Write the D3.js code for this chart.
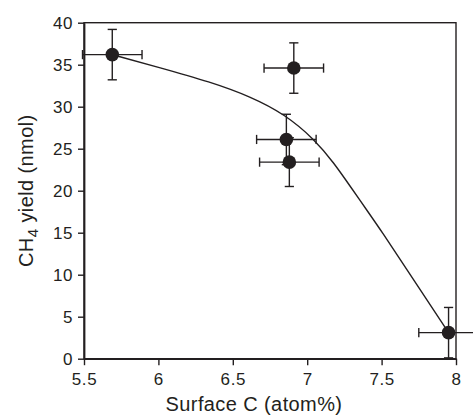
<!DOCTYPE html>
<html><head><meta charset="utf-8">
<script src="https://cdn.jsdelivr.net/npm/d3@7"></script>
<style>body{margin:0;background:#fff}svg{display:block}text{font-family:"Liberation Sans",Arial,sans-serif;fill:#231f20}</style>
</head><body><svg id="c" width="473" height="416"></svg>
<script>
const xVals = [5.69, 6.91, 6.86, 6.88, 7.95];
const yVals = [36.2, 34.6, 26.1, 23.4, 3.1];
const xErr = [0.2, 0.2, 0.2, 0.2, 0.2];
const yErr = [3.0, 3.0, 3.0, 2.9, 3.0];
const curveX = [5.69, 6.0, 6.35, 6.62, 6.85, 7.05, 7.18, 7.29, 7.40, 7.51, 7.61, 7.95];
const curveY = [36.2, 34.7, 32.95, 31.2, 29.1, 26.1, 23.3, 20.5, 17.7, 14.9, 12.2, 3.1];
const xTicks = [5.5, 6, 6.5, 7, 7.5, 8];
const yTicks = [0, 5, 10, 15, 20, 25, 30, 35, 40];

const ink = "#231f20";
const svg = d3.select("#c");
const L = 84, R = 456, T = 22.7, B = 358.7;
const x = d3.scaleLinear().domain([5.5, 8]).range([L, R]);
const y = d3.scaleLinear().domain([0, 40]).range([B, T]);

// frame
svg.append("rect").attr("x", L).attr("y", T).attr("width", R - L).attr("height", B - T)
  .attr("fill", "none").attr("stroke", ink).attr("stroke-width", 1.4);

const xa = svg.append("g").attr("transform", `translate(0,${B})`)
  .call(d3.axisBottom(x).tickValues(xTicks).tickFormat(d3.format("")).tickSize(6.5).tickSizeOuter(0));
const ya = svg.append("g").attr("transform", `translate(${L},0)`)
  .call(d3.axisLeft(y).tickValues(yTicks).tickSize(6).tickSizeOuter(0));
[xa, ya].forEach(g => {
  g.select(".domain").attr("stroke", ink).attr("stroke-width", 1.8);
  g.selectAll(".tick line").attr("stroke", ink).attr("stroke-width", 1.4);
  g.selectAll(".tick text").attr("fill", ink).style("font-size", "17px").style("letter-spacing", "0.6px");
});
xa.selectAll(".tick text").attr("dy", "0.71em").attr("y", 14);
ya.selectAll(".tick text").attr("x", -11);

// fitted curve
const line = d3.line().x(d => x(d[0])).y(d => y(d[1])).curve(d3.curveBasis);
svg.append("path").datum(d3.zip(curveX, curveY)).attr("d", line)
  .attr("fill", "none").attr("stroke", ink).attr("stroke-width", 1.4);

// error bars
const cap = 4.6;
const pts = d3.range(xVals.length).map(i => ({x: xVals[i], y: yVals[i], ex: xErr[i], ey: yErr[i]}));
const eb = svg.append("g").attr("stroke", ink).attr("stroke-width", 1.4).attr("fill", "none");
pts.forEach(p => {
  eb.append("line").attr("x1", x(p.x)).attr("x2", x(p.x)).attr("y1", y(p.y - p.ey)).attr("y2", y(p.y + p.ey));
  eb.append("line").attr("x1", x(p.x) - cap).attr("x2", x(p.x) + cap).attr("y1", y(p.y - p.ey)).attr("y2", y(p.y - p.ey));
  eb.append("line").attr("x1", x(p.x) - cap).attr("x2", x(p.x) + cap).attr("y1", y(p.y + p.ey)).attr("y2", y(p.y + p.ey));
  eb.append("line").attr("x1", x(p.x - p.ex)).attr("x2", x(p.x + p.ex)).attr("y1", y(p.y)).attr("y2", y(p.y));
  eb.append("line").attr("x1", x(p.x - p.ex)).attr("x2", x(p.x - p.ex)).attr("y1", y(p.y) - cap).attr("y2", y(p.y) + cap);
  eb.append("line").attr("x1", x(p.x + p.ex)).attr("x2", x(p.x + p.ex)).attr("y1", y(p.y) - cap).attr("y2", y(p.y) + cap);
});
svg.append("g").selectAll("circle").data(pts).join("circle")
  .attr("cx", d => x(d.x)).attr("cy", d => y(d.y)).attr("r", 6.8).attr("fill", ink);

// titles
svg.append("text").attr("x", 254).attr("y", 411).attr("text-anchor", "middle")
  .style("font-size", "20px").style("letter-spacing", "0.4px").text("Surface C (atom%)");
const yt = svg.append("text").attr("transform", `translate(33,${(T + B) / 2}) rotate(-90)`)
  .attr("text-anchor", "middle").style("font-size", "20px").style("letter-spacing", "0.4px");
yt.append("tspan").text("CH");
yt.append("tspan").attr("dy", 5).style("font-size", "15px").text("4");
yt.append("tspan").attr("dy", -5).text(" yield (nmol)");
</script></body></html>
